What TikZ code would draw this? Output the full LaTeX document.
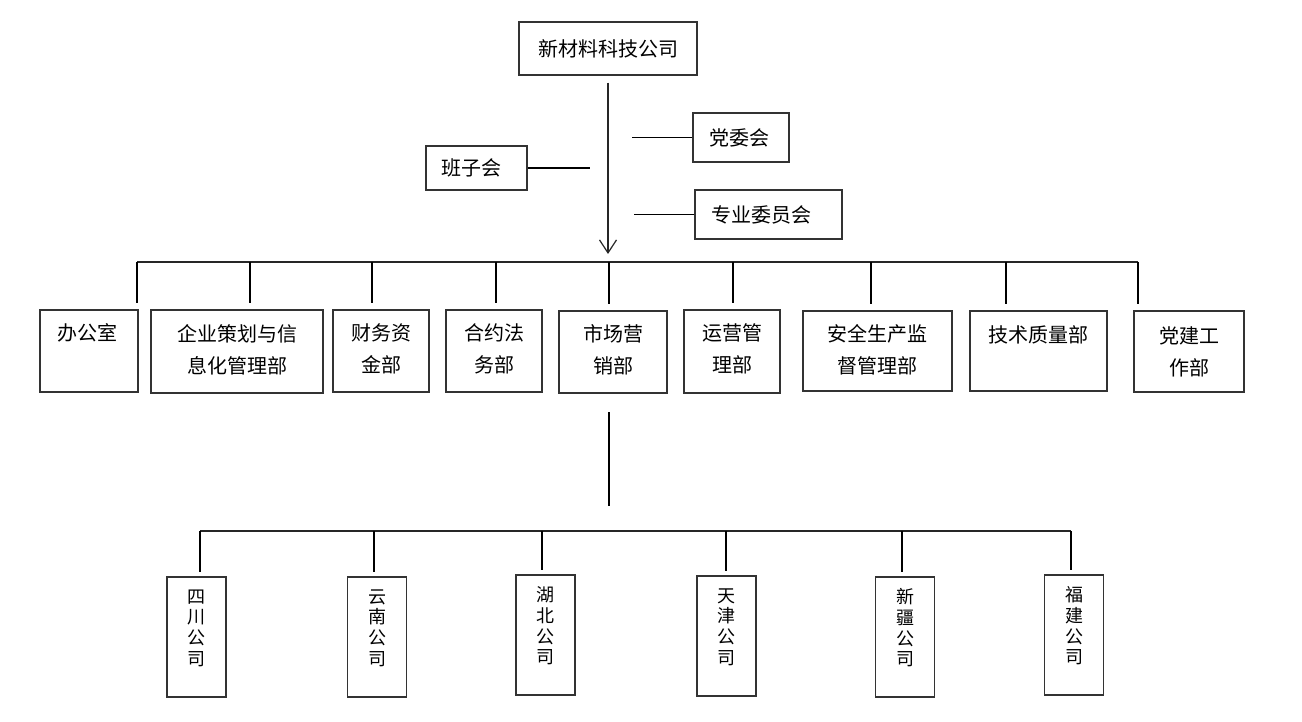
\documentclass[tikz,border=0pt]{standalone}
\usepackage{fontspec}
\setmainfont{Noto Sans CJK SC}
\usetikzlibrary{arrows.meta,calc}
\begin{document}
\begin{tikzpicture}[x=1pt,y=-1pt,
  box/.style={draw=black!80, line width=1.2pt, inner sep=0pt},
  dim/.style 2 args={minimum width=#1pt, minimum height=#2pt},
  lbl/.style={font=\fontsize{20}{32}\selectfont, align=center, inner sep=0pt},
  vlbl/.style={font=\fontsize{18}{20.7}\selectfont, align=center, inner sep=0pt},
  conn/.style={line width=1.8pt, black},
  bus/.style={line width=1.4pt, black!85},
]
\useasboundingbox (0,0) rectangle (1302,722);

% top level
\node[box,dim={178}{53},label={[lbl]center:新材料科技公司}] (top) at (608,48.5) {};
\node[box,dim={101}{44},label={[lbl,xshift=-5pt]center:班子会}] (bz) at (476.5,168) {};
\node[box,dim={96}{49},label={[lbl,xshift=-2pt]center:党委会}] (dw) at (741,137.5) {};
\node[box,dim={147}{49},label={[lbl,xshift=-7pt]center:专业委员会}] (zy) at (768.5,214.5) {};

% departments
\node[box,dim={98}{82},label={[lbl,xshift=-2pt,yshift=18pt]center:办公室}] (d1) at (89,351) {};
\node[box,dim={172}{83},label={[lbl,yshift=2pt]center:{企业策划与信\\息化管理部}}] (d2) at (237,351.5) {};
\node[box,dim={96}{82},label={[lbl,yshift=2pt]center:{财务资\\金部}}] (d3) at (381,351) {};
\node[box,dim={96}{82},label={[lbl,yshift=2pt]center:{合约法\\务部}}] (d4) at (494,351) {};
\node[box,dim={108}{82},label={[lbl,yshift=2pt]center:{市场营\\销部}}] (d5) at (613,352) {};
\node[box,dim={96}{83},label={[lbl,yshift=3pt]center:{运营管\\理部}}] (d6) at (732,351.5) {};
\node[box,dim={149}{80},label={[lbl,yshift=1pt]center:{安全生产监\\督管理部}}] (d7) at (877.5,351) {};
\node[box,dim={137}{80},label={[lbl,yshift=16pt]center:技术质量部}] (d8) at (1038.5,351) {};
\node[box,dim={110}{81},label={[lbl]center:{党建工\\作部}}] (d9) at (1189,351.5) {};

% branch companies
\node[box,dim={59}{120},label={[vlbl,yshift=9pt]center:{四\\川\\公\\司}}] (s1) at (196.5,637) {};
\node[box,dim={59}{120},label={[vlbl,yshift=9pt]center:{云\\南\\公\\司}}] (s2) at (377,637) {};
\node[box,dim={59}{120},label={[vlbl,yshift=9pt]center:{湖\\北\\公\\司}}] (s3) at (545.5,635) {};
\node[box,dim={59}{120},label={[vlbl,yshift=9pt]center:{天\\津\\公\\司}}] (s4) at (726.5,636) {};
\node[box,dim={59}{120},label={[vlbl,yshift=9pt]center:{新\\疆\\公\\司}}] (s5) at (905,637) {};
\node[box,dim={59}{120},label={[vlbl,yshift=9pt]center:{福\\建\\公\\司}}] (s6) at (1074,635) {};

% main arrow
\coordinate (arrEnd) at (608,254);
\draw[line width=1.2pt, black!85, -{Straight Barb[length=13pt,width=17pt]}] ($(top.south)+(0,7)$) -- (arrEnd);

% side committees
\draw[conn] (bz.east) -- ++(62,0);
\draw[conn] (dw.west) -- ++(-60,0);
\draw[conn] (zy.west) -- ++(-60,0);

% department bus
\coordinate (b1) at (137,262);
\coordinate (b2) at (250,262);
\coordinate (b3) at (372,262);
\coordinate (b4) at (496,262);
\coordinate (b5) at (609,262);
\coordinate (b6) at (733,262);
\coordinate (b7) at (871,262);
\coordinate (b8) at (1006,262);
\coordinate (b9) at (1138,262);
\draw[bus] (b1) -- (b9);
\foreach \i in {1,...,9} {
  \draw[conn, shorten >=6pt] (b\i) -- (b\i |- d\i.north);
}

% branch bus
\coordinate (m1) at (609,412);
\coordinate (m2) at (609,506);
\draw[conn] (m1) -- (m2);
\coordinate (c1) at (200,531);
\coordinate (c2) at (374,531);
\coordinate (c3) at (542,531);
\coordinate (c4) at (726,531);
\coordinate (c5) at (902,531);
\coordinate (c6) at (1071,531);
\draw[bus] (c1) -- (c6);
\foreach \i in {1,...,6} {
  \draw[conn, shorten >=4pt] (c\i) -- (c\i |- s\i.north);
}
\end{tikzpicture}
\end{document}
